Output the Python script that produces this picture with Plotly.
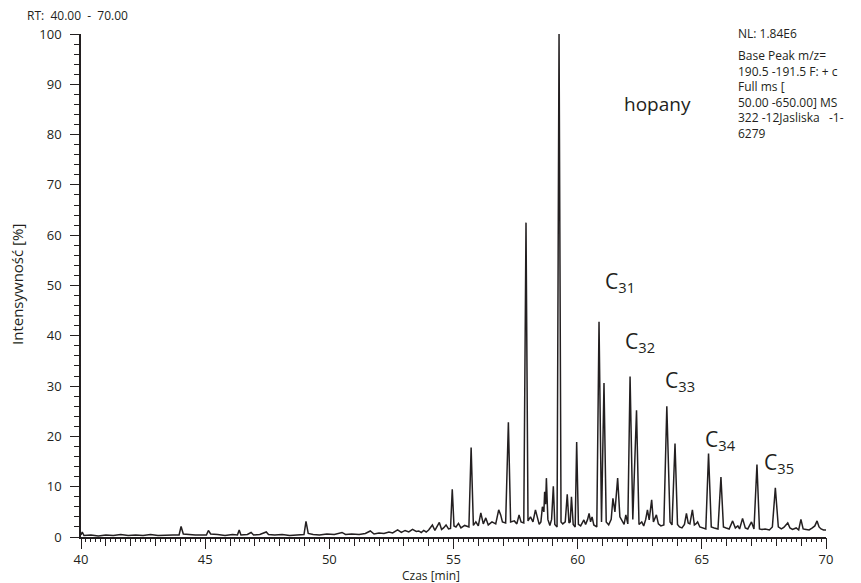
import plotly.graph_objects as go

# Retention time [min] and relative intensity [%]
rt_min = [
    40.00, 40.05, 40.12, 40.40, 40.70, 41.00, 41.30, 41.60, 41.90, 42.20,
    42.50, 42.80, 43.10, 43.40, 43.70, 43.95, 44.03, 44.12, 44.30, 44.60,
    44.90, 45.05, 45.13, 45.22, 45.50, 45.80, 46.10, 46.30, 46.37, 46.44,
    46.70, 46.85, 46.95, 47.20, 47.46, 47.55, 47.80, 48.10, 48.40, 48.70,
    48.98, 49.06, 49.15, 49.35, 49.60, 49.90, 50.20, 50.51, 50.65, 50.90,
    51.20, 51.45, 51.65, 51.80, 52.00, 52.20, 52.40, 52.55, 52.75, 52.90,
    53.05, 53.20, 53.35, 53.50, 53.60, 53.70, 53.80, 53.90, 54.00, 54.15,
    54.25, 54.43, 54.52, 54.60, 54.70, 54.80, 54.88, 54.95, 55.02, 55.10,
    55.20, 55.30, 55.45, 55.62, 55.71, 55.80, 55.90, 56.00, 56.10, 56.20,
    56.30, 56.40, 56.55, 56.70, 56.82, 56.90, 56.97, 57.10, 57.21, 57.30,
    57.45, 57.55, 57.64, 57.72, 57.83, 57.92, 58.00, 58.10, 58.20, 58.30,
    58.37, 58.45, 58.52, 58.58, 58.64, 58.67, 58.71, 58.74, 58.80, 58.88,
    58.95, 59.02, 59.08, 59.17, 59.25, 59.33, 59.40, 59.50, 59.58, 59.65,
    59.70, 59.75, 59.82, 59.90, 59.96, 60.03, 60.12, 60.20, 60.25, 60.32,
    60.40, 60.46, 60.52, 60.58, 60.65, 60.77, 60.86, 60.96, 61.06, 61.15,
    61.25, 61.35, 61.42, 61.50, 61.61, 61.70, 61.80, 61.87, 61.94, 62.02,
    62.11, 62.22, 62.37, 62.47, 62.58, 62.66, 62.74, 62.81, 62.88, 62.98,
    63.05, 63.17, 63.25, 63.35, 63.47, 63.59, 63.72, 63.80, 63.92, 64.02,
    64.10, 64.20, 64.30, 64.38, 64.45, 64.52, 64.62, 64.70, 64.76, 64.83,
    64.92, 65.05, 65.16, 65.27, 65.38, 65.50, 65.65, 65.77, 65.87, 65.98,
    66.10, 66.24, 66.35, 66.45, 66.52, 66.64, 66.75, 66.85, 67.00, 67.10,
    67.22, 67.32, 67.42, 67.55, 67.72, 67.84, 67.96, 68.08, 68.20, 68.30,
    68.46, 68.55, 68.65, 68.80, 68.90, 68.99, 69.08, 69.20, 69.32, 69.45,
    69.55, 69.64, 69.72, 69.80, 69.90, 70.00,
]
intensity = [
    0.4, 1.0, 0.3, 0.4, 0.2, 0.4, 0.3, 0.5, 0.3, 0.4,
    0.3, 0.5, 0.3, 0.4, 0.4, 0.4, 2.1, 0.6, 0.5, 0.4,
    0.4, 0.4, 1.3, 0.6, 0.5, 0.3, 0.5, 0.4, 1.4, 0.4,
    0.5, 0.9, 0.4, 0.5, 1.0, 0.5, 0.4, 0.5, 0.3, 0.4,
    0.5, 3.1, 0.7, 0.5, 0.4, 0.6, 0.5, 0.9, 0.5, 0.6,
    0.5, 0.7, 1.2, 0.6, 0.8, 0.7, 1.0, 0.8, 1.4, 0.9,
    1.3, 1.0, 1.5, 1.1, 1.2, 0.9, 1.3, 1.0, 1.4, 2.4,
    1.3, 2.9, 1.5, 1.8, 2.4, 1.6, 1.7, 9.5, 2.2, 2.0,
    2.7, 1.8, 2.3, 2.0, 17.8, 2.3, 3.0, 2.2, 4.8, 2.6,
    3.8, 2.4, 3.0, 2.6, 5.4, 4.4, 3.0, 2.8, 22.8, 3.0,
    3.2, 2.6, 4.4, 3.0, 2.8, 62.5, 3.2, 4.0, 3.0, 5.4,
    4.0, 2.5, 3.0, 6.0, 5.0, 9.0, 6.5, 11.7, 3.5, 2.3,
    3.5, 10.1, 2.5, 2.0, 100.0, 3.0, 2.6, 3.0, 8.5, 2.8,
    3.0, 8.0, 2.5, 2.0, 18.9, 2.5, 2.2, 2.8, 3.4, 2.5,
    3.5, 4.7, 3.0, 4.0, 2.4, 2.0, 42.8, 3.0, 30.6, 3.0,
    2.4, 3.5, 7.7, 5.0, 11.7, 4.0, 3.0, 2.5, 4.4, 2.6,
    31.9, 3.5, 25.2, 2.5, 3.0, 2.2, 3.5, 5.4, 3.4, 7.4,
    3.0, 4.4, 2.6, 2.2, 2.4, 26.0, 3.0, 2.4, 18.6, 2.5,
    2.0, 1.8, 2.5, 4.7, 2.8, 2.6, 5.4, 2.4, 2.6, 3.0,
    2.0, 1.8, 1.6, 16.6, 2.0, 1.8, 1.6, 11.9, 2.0, 1.8,
    1.6, 3.2, 1.8, 2.2, 1.6, 3.7, 1.8, 1.6, 3.0, 1.6,
    14.4, 1.6, 1.5, 1.6, 1.4, 2.0, 9.8, 2.0, 1.6, 1.9,
    2.8, 1.8, 1.5, 1.8, 1.4, 3.5, 1.6, 1.5, 1.4, 1.8,
    2.2, 3.2, 2.0, 1.6, 1.4, 1.4,
]

# Homologue labels (x = left edge in min, y = centre in %)
label_names = ["31", "32", "33", "34", "35"]
label_x = [61.02, 61.83, 63.44, 65.05, 67.42]
label_y = [50.6, 38.7, 31.1, 19.2, 14.8]

info_lines = ["Base Peak m/z=", "190.5 -191.5 F: + c", "Full ms [",
              "50.00 -650.00] MS", "322 -12Jasliska   -1-", "6279"]

INK = "#231f20"
FONT = "Open Sans"

fig = go.Figure()
fig.add_trace(go.Scatter(x=rt_min, y=intensity, mode="lines",
                         line=dict(color=INK, width=1.5), hoverinfo="skip",
                         showlegend=False))
# invisible trace to carry the fine-tick overlay axis
fig.add_trace(go.Scatter(x=[rt_min[0]], y=[intensity[0]], xaxis="x2",
                         mode="markers", marker=dict(opacity=0),
                         hoverinfo="skip", showlegend=False))

fig.update_layout(
    width=861, height=583,
    margin=dict(l=81, r=35, t=34, b=46),
    paper_bgcolor="white", plot_bgcolor="white",
    font=dict(family=FONT, color=INK, size=13),
    xaxis=dict(range=[40, 70], dtick=5, tick0=40, ticks="outside", ticklen=10,
               tickwidth=1, tickcolor=INK, showline=True, linecolor=INK,
               linewidth=1.5, showgrid=False, zeroline=False,
               tickfont=dict(size=13, family=FONT, color=INK),
               minor=dict(dtick=1, tick0=40, ticks="outside", ticklen=7,
                          tickwidth=1, tickcolor=INK, showgrid=False)),
    xaxis2=dict(range=[40, 70], overlaying="x", anchor="y", side="bottom",
                dtick=0.2, tick0=40, ticks="outside", ticklen=4, tickwidth=1,
                tickcolor=INK, showticklabels=False, showline=False,
                showgrid=False, zeroline=False),
    yaxis=dict(range=[0, 100], dtick=10, tick0=0, ticks="outside", ticklen=9,
               tickwidth=1, tickcolor=INK, showline=True, linecolor=INK,
               linewidth=1.5, showgrid=False, zeroline=False,
               ticklabelstandoff=6,
               tickfont=dict(size=13, family=FONT, color=INK),
               minor=dict(dtick=2, tick0=0, ticks="outside", ticklen=5,
                          tickwidth=1, tickcolor=INK, showgrid=False)),
)

def px_x(px):
    return (px - 81) / 745.0

def px_y(py):
    return (537 - py) / 503.0

ann = []
for n, lx, ly in zip(label_names, label_x, label_y):
    ann.append(dict(x=lx, y=ly, xref="x", yref="y", xanchor="left",
                    yanchor="middle", showarrow=False,
                    text="C<sub>" + n + "</sub>",
                    font=dict(size=21, family=FONT, color=INK)))
ann.append(dict(x=63.2, y=86.1, xref="x", yref="y", xanchor="center",
                yanchor="middle", showarrow=False, text="hopany",
                font=dict(size=19, family=FONT, color=INK)))
ann.append(dict(x=px_x(736), y=px_y(33), xref="paper", yref="paper",
                xanchor="left", yanchor="middle", showarrow=False,
                text="NL: 1.84E6", font=dict(size=12, family=FONT, color=INK)))
ann.append(dict(x=px_x(736), y=px_y(45), xref="paper", yref="paper",
                xanchor="left", yanchor="top", showarrow=False, align="left",
                text="<br>".join(s.replace(" ", "\u00a0") for s in info_lines),
                font=dict(size=12, family=FONT, color=INK)))
ann.append(dict(x=px_x(25), y=px_y(16), xref="paper", yref="paper",
                xanchor="left", yanchor="middle", showarrow=False,
                text="RT:\u00a0\u00a040.00\u00a0\u00a0-\u00a0\u00a070.00",
                font=dict(size=12, family=FONT, color=INK)))
ann.append(dict(x=px_x(17), y=px_y(285), xref="paper", yref="paper",
                xanchor="center", yanchor="middle", showarrow=False,
                textangle=-90, text="Intensywność [%]",
                font=dict(size=15, family=FONT, color=INK)))
ann.append(dict(x=px_x(431), y=px_y(575), xref="paper", yref="paper",
                xanchor="center", yanchor="middle", showarrow=False,
                text="Czas [min]", font=dict(size=12, family=FONT, color=INK)))
fig.update_layout(annotations=ann)

fig.write_html("out.html")
